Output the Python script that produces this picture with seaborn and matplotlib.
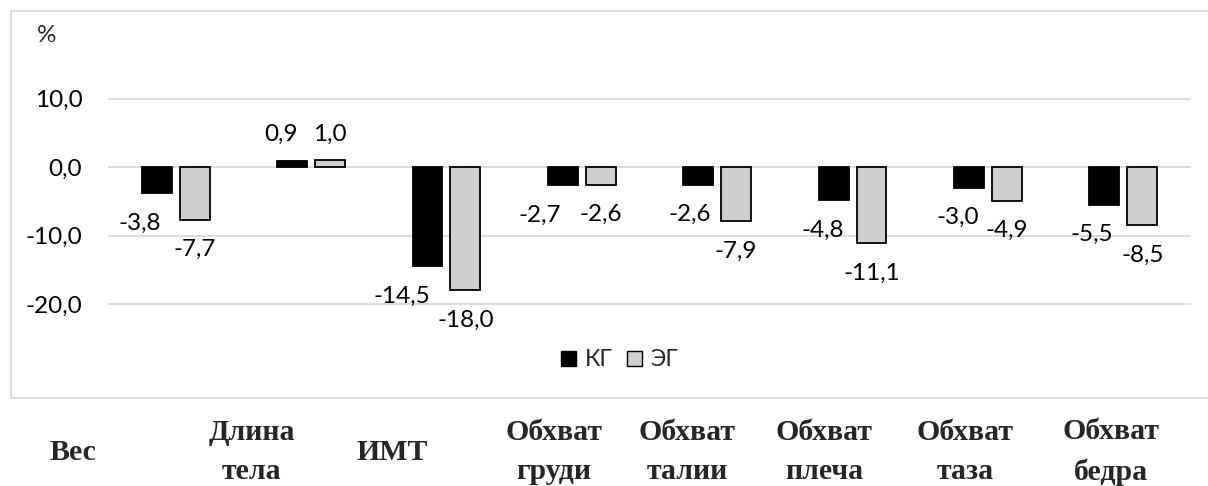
import matplotlib
matplotlib.use("Agg")
import matplotlib.pyplot as plt
from matplotlib.patches import Patch, Rectangle
import seaborn as sns
import pandas as pd

# ---- data ----
categories = ["Вес", "Длина тела", "ИМТ", "Обхват груди", "Обхват талии",
              "Обхват плеча", "Обхват таза", "Обхват бедра"]
category_labels = ["Вес", "Длина\nтела", "ИМТ", "Обхват\nгруди", "Обхват\nталии",
                   "Обхват\nплеча", "Обхват\nтаза", "Обхват\nбедра"]
series_names = ["КГ", "ЭГ"]
kg_values = [-3.8, 0.9, -14.5, -2.7, -2.6, -4.8, -3.0, -5.5]
eg_values = [-7.7, 1.0, -18.0, -2.6, -7.9, -11.1, -4.9, -8.5]
ytick_values = [10, 0, -10, -20]
ytick_labels = ["10,0", "0,0", "-10,0", "-20,0"]
y_unit = "%"

# ---- layout / style ----
W, H = 1208, 486
DPI = 100
colors = {"КГ": "#000000", "ЭГ": "#D0CECE"}
grid_color = "#D9D9D9"
num_font = "Lato"
cat_font = "Liberation Serif"
num_size = 17.5
# horizontal nudges (px) of KG value labels, as placed in the original
kg_label_nudge = [-17, -11, -26, -23, -8, -11, -11, -13]
# x-centres (px) of the category captions under the chart frame
caption_x_px = [73, 252, 392, 554, 687, 824, 965, 1111]

df = pd.DataFrame({
    "category": categories * 2,
    "group": [series_names[0]] * len(categories) + [series_names[1]] * len(categories),
    "value": kg_values + eg_values,
})

sns.set_theme(style="white")
plt.rcParams["font.family"] = [num_font, "DejaVu Sans"]

fig = plt.figure(figsize=(W / DPI, H / DPI), dpi=DPI)
ax_left, ax_right = 108 / W, 1191 / W
ax_top, ax_bottom = 1 - 30 / H, 1 - 372.5 / H
ax = fig.add_axes([ax_left, ax_bottom, ax_right - ax_left, ax_top - ax_bottom])

sns.barplot(data=df, x="category", y="value", hue="group", order=categories,
            hue_order=series_names, palette=colors, width=0.56, gap=0.21,
            edgecolor="black", linewidth=1.3, errorbar=None, legend=False,
            ax=ax, zorder=3)

ax.set_ylim(-30, 20)
ax.set_xlim(-0.5, len(categories) - 0.5)
ax.set_yticks(ytick_values)
ax.set_yticklabels(ytick_labels, fontsize=num_size, color="#000000",
                   family=[num_font, "DejaVu Sans"])
ax.tick_params(axis="y", length=0, pad=18.5)
ax.set_xticks([])
ax.set_xlabel("")
ax.set_ylabel("")
for s in ax.spines.values():
    s.set_visible(False)
ax.yaxis.grid(True, color=grid_color, linewidth=1.3, zorder=0)
ax.set_axisbelow(True)

# value labels
all_vals = [kg_values, eg_values]
for si, cont in enumerate(ax.containers):
    for bi, patch in enumerate(cont):
        v = all_vals[si][bi]
        x = patch.get_x() + patch.get_width() / 2
        dx = kg_label_nudge[bi] if si == 0 else 0
        dy = 26 if v >= 0 else -30
        ax.annotate(f"{v:.1f}".replace(".", ","), xy=(x, v),
                    xytext=(dx, dy), textcoords="offset pixels",
                    ha="center", va="center", fontsize=num_size, color="black",
                    family=[num_font, "DejaVu Sans"], annotation_clip=False)

# legend
handles = [Patch(facecolor=colors[n], edgecolor="black", linewidth=1.0, label=n)
           for n in series_names]
fig.legend(handles=handles, loc="center", bbox_to_anchor=(620 / W, 1 - 360 / H),
           ncol=2, frameon=False, handlelength=0.62, handleheight=0.62,
           handletextpad=0.4, columnspacing=0.65, borderpad=0,
           prop={"family": [num_font, "DejaVu Sans"], "size": 16.5})

# unit label
fig.text(47 / W, 1 - 35 / H, y_unit, ha="center", va="center", fontsize=num_size,
         family=[num_font, "DejaVu Sans"])

# chart frame
fig.patches.append(Rectangle((11 / W, 1 - 398 / H), 1.2, (398 - 11.5) / H,
                             transform=fig.transFigure, fill=False,
                             edgecolor=grid_color, linewidth=1.3, clip_on=False))

# category captions below the frame
for lbl, xp in zip(category_labels, caption_x_px):
    fig.text(xp / W, 1 - 452 / H, lbl, ha="center", va="center", fontsize=21.5,
             fontweight="bold", family=[cat_font, "DejaVu Serif"],
             linespacing=1.6, multialignment="center")

fig.savefig("out.png", dpi=DPI, facecolor="white")
